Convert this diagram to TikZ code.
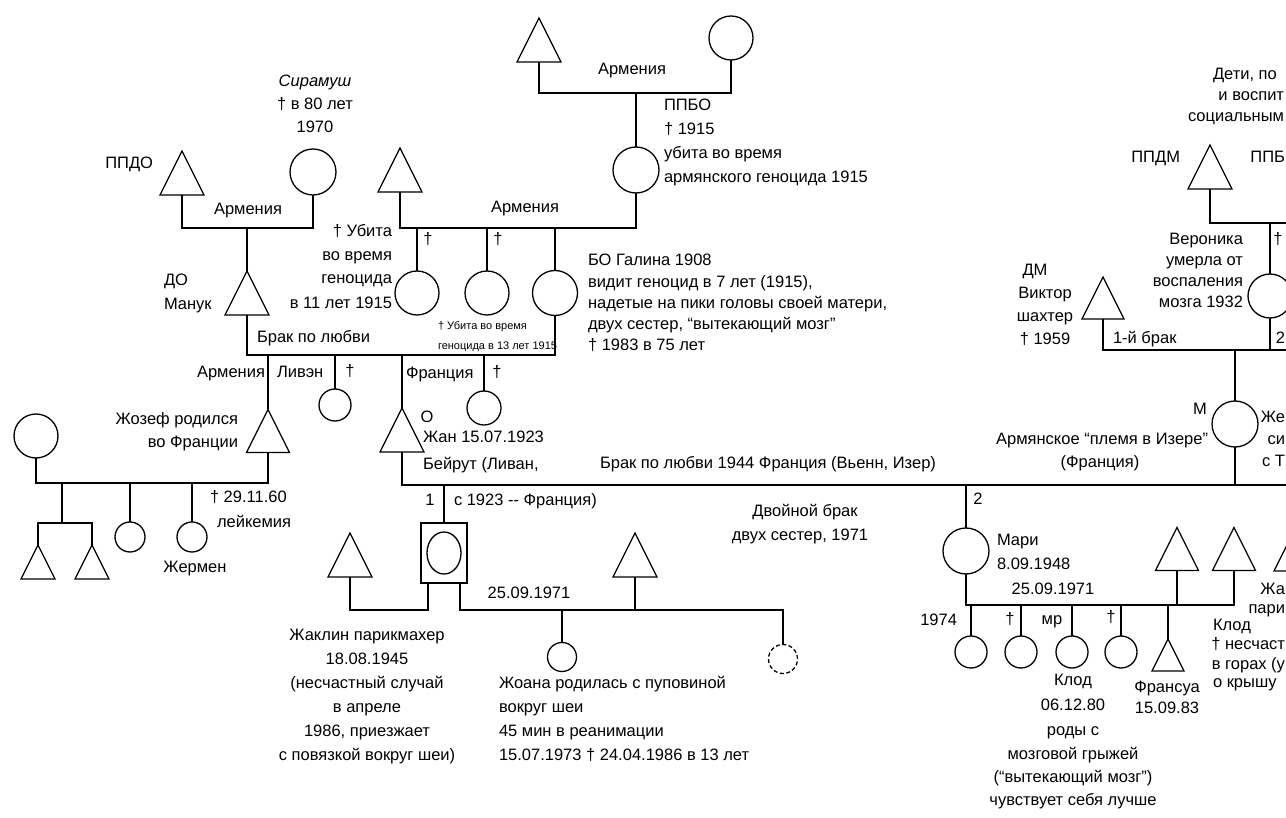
\documentclass[tikz,border=0pt]{standalone}
\usepackage{fontspec}
\setmainfont{Liberation Sans}
\usetikzlibrary{calc,shapes.geometric}
\newcommand{\gtri}[4]{%
  \node[tribox=#4] (#1) at (#2,#3) {};
  \draw[ln] (#1.north) -- (#1.south west) -- (#1.south east) -- cycle;}
\begin{document}
\begin{tikzpicture}[x=1pt,y=-1pt,
  every node/.style={inner sep=0pt, outer sep=0pt, font=\fontsize{16.5}{20}\selectfont},
  sm/.style={font=\fontsize{11}{13}\selectfont},
  ln/.style={line width=1.3pt, black},
  fem/.style={circle, draw, line width=1.3pt, minimum size=#1},
  fem/.default=44,
  tribox/.style={rectangle, minimum width=#1, minimum height=#1},
  tribox/.default=44]
\fill[white] (0,0) rectangle (1286,818);
\useasboundingbox (0,0) rectangle (1286,818);
\clip (0,0) rectangle (1286,818);

% ---------- top grandparents
\gtri{gA}{539}{40}{44}
\node[fem=44] (gB) at (731,38) {};
\coordinate (mA) at (636,93);
\draw[ln] (gA.south) |- (mA) -| (gB.south);
\node[fem=46] (ppbo) at (636,170) {};
\draw[ln] (mA) -- (ppbo.north);

% ---------- PPBO marriage
\gtri{bh}{400}{170}{44}
\coordinate (mB) at (520,228);
\draw[ln] (bh.south) |- (mB) -| (ppbo.south);
\node[fem=44] (c1) at (417,293) {};
\node[fem=44] (c2) at (487,293) {};
\node[fem=45] (c3) at (555,293) {};
\draw[ln] (c1.north) -- (c1.north |- mB);
\draw[ln] (c2.north) -- (c2.north |- mB);
\draw[ln] (c3.north) -- (c3.north |- mB);

% ---------- PPDO marriage
\gtri{ppdo}{182}{173}{44}
\node[fem=46] (sir) at (313,172) {};
\coordinate (mC) at (247,228);
\draw[ln] (ppdo.south) |- (mC) -| (sir.south);
\gtri{do}{247}{293}{44}
\draw[ln] (mC) -- (do.north);

% ---------- DO + Galina
\coordinate (mD) at (400,355);
\draw[ln] (do.south) |- (mD) -| (c3.south);
\gtri{jozef}{268}{431}{43}
\node[fem=32] (d1) at (335,405) {};
\gtri{jan}{402}{430}{44}
\node[fem=34] (d2) at (484,408) {};
\draw[ln] (jozef.north) -- (jozef.north |- mD);
\draw[ln] (d1.north) -- (d1.north |- mD);
\draw[ln] (jan.north) -- (jan.north |- mD);
\draw[ln] (d2.north) -- (d2.north |- mD);

% ---------- Jozef family
\node[fem=44] (jw) at (36,436) {};
\coordinate (mE) at (150,483);
\draw[ln] (jw.south) |- (mE) -| (jozef.south);
\gtri{tw1}{38}{562}{34}
\gtri{tw2}{92}{562}{34}
\coordinate (twj) at (62,523);
\draw[ln] (twj |- mE) -- (twj);
\draw[ln] (tw1.north) |- (twj) -| (tw2.north);
\node[fem=30] (e1) at (130,537) {};
\node[fem=30] (germ) at (192,537) {};
\draw[ln] (e1.north) -- (e1.north |- mE);
\draw[ln] (germ.north) -- (germ.north |- mE);

% ---------- big marriage
\node[fem=46] (mc) at (1235,424) {};
\coordinate (eF) at (1290,485);
\draw[ln] (jan.south) |- (eF);
\draw[ln] (mc.south) -- (mc.south |- eF);
\node[draw, line width=1.3pt, rectangle, minimum width=46, minimum height=60] (sq) at (444,553) {};
\node[draw, line width=1.3pt, ellipse, minimum width=34, minimum height=42] (sqc) at (444,553) {};
\draw[ln] (sq.north) -- (sq.north |- eF);
\node[fem=46] (mari) at (966,551) {};
\draw[ln] (mari.north) -- (mari.north |- eF);

% ---------- Jaklin side
\gtri{jak}{350}{555}{44}
\coordinate (mG) at (390,610);
\draw[ln] (jak.south) |- (mG) -| ($(sq.south)+(-16,0)$);
\gtri{h2}{635}{555}{44}
\node[fem=29] (joana) at (562,657) {};
\node[fem=29, dash pattern=on 4pt off 2.5pt] (dc) at (783,659) {};
\coordinate (mH) at (600,610);
\draw[ln] ($(sq.south)+(16,0)$) |- (mH) -| (dc.north);
\draw[ln] (h2.south) -- (h2.south |- mH);
\draw[ln] (joana.north) -- (joana.north |- mH);

% ---------- Mari family
\gtri{t1}{1177}{549}{43}
\gtri{t2}{1234}{549}{43}
\gtri{t3}{1296}{549}{44}
\coordinate (mI) at (1100,605);
\draw[ln] (mari.south) |- (mI) -| (t2.south);
\draw[ln] (t1.south) -- (t1.south |- mI);
\node[fem=32] (k1) at (971,652) {};
\node[fem=32] (k2) at (1021,652) {};
\node[fem=32] (k3) at (1072,652) {};
\node[fem=32] (k4) at (1121,652) {};
\gtri{fr}{1168}{655}{32}
\foreach \k in {k1,k2,k3,k4,fr} \draw[ln] (\k.north) -- (\k.north |- mI);

% ---------- top right
\gtri{ppdm}{1210}{167}{44}
\coordinate (mJ) at (1290,223);
\draw[ln] (ppdm.south) |- (mJ);
\node[fem=44] (ver) at (1270,296) {};
\draw[ln] (ver.north) -- (ver.north |- mJ);
\gtri{dm}{1103}{298}{42}
\coordinate (mK) at (1290,350);
\draw[ln] (dm.south) |- (mK);
\draw[ln] (ver.south) -- (ver.south |- mK);
\draw[ln] (mc.north) -- (mc.north |- mK);

% ---------- texts
\node[anchor=mid] (tArm0) at (632,72) {Армения};
\node[anchor=mid west] (tP1) at (664,108) {ППБО};
\node[anchor=mid west] (tP2) at (664,132) {† 1915};
\node[anchor=mid west] (tP3) at (664,156) {убита во время};
\node[anchor=mid west] (tP4) at (664,180) {армянского геноцида 1915};
\node[anchor=mid] (tS1) at (315,84) {\itshape Сирамуш};
\node[anchor=mid] (tS2) at (315,107) {† в 80 лет};
\node[anchor=mid] (tS3) at (315,130) {1970};
\node[anchor=mid east] (tPPDO) at (153,166) {ППДО};
\node[anchor=mid] (tArm1) at (248,212) {Армения};
\node[anchor=mid] (tArm2) at (525,210) {Армения};
\node[anchor=mid east] (tU1) at (392,234) {† Убита};
\node[anchor=mid east] (tU2) at (392,258) {во время};
\node[anchor=mid east] (tU3) at (392,281) {геноцида};
\node[anchor=mid east] (tU4) at (392,306) {в 11 лет 1915};
\node[anchor=mid] (tD1) at (428,242) {†};
\node[anchor=mid] (tD2) at (498,242) {†};
\node[sm, anchor=mid west] (tK1) at (438,327) {† Убита во время};
\node[sm, anchor=mid west] (tK2) at (438,347) {геноцида в 13 лет 1915};
\node[anchor=mid west] (tG1) at (588,263) {БО Галина 1908};
\node[anchor=mid west] (tG2) at (588,285) {видит геноцид в 7 лет (1915),};
\node[anchor=mid west] (tG3) at (588,306) {надетые на пики головы своей матери,};
\node[anchor=mid west] (tG4) at (588,327) {двух сестер, ``вытекающий мозг''};
\node[anchor=mid west] (tG5) at (588,348) {† 1983 в 75 лет};
\node[anchor=mid west] (tDO1) at (164,283) {ДО};
\node[anchor=mid west] (tDO2) at (164,307) {Манук};
\node[anchor=mid west] (tBL) at (257,340) {Брак по любви};
\node[anchor=mid east] (tArm3) at (265,375) {Армения};
\node[anchor=mid west] (tLiv) at (277,375) {Ливэн};
\node[anchor=mid] (tD3) at (350,374) {†};
\node[anchor=mid west] (tFr) at (406,376) {Франция};
\node[anchor=mid] (tD4) at (497,375) {†};
\node[anchor=mid east] (tJz1) at (238,422) {Жозеф родился};
\node[anchor=mid east] (tJz2) at (238,445) {во Франции};
\node[anchor=mid west] (tJz3) at (210,500) {† 29.11.60};
\node[anchor=mid west] (tJz4) at (217,525) {лейкемия};
\node[anchor=mid] (tGer) at (195,570) {Жермен};
\node[anchor=mid] (tO) at (427,420) {О};
\node[anchor=mid west] (tJ1) at (423,440) {Жан 15.07.1923};
\node[anchor=mid west] (tJ2) at (423,467) {Бейрут (Ливан,};
\node[anchor=mid west] (tBig) at (600,466) {Брак по любви 1944 Франция (Вьенн, Изер)};
\node[anchor=mid] (tOne) at (430,503) {1};
\node[anchor=mid west] (tJ3) at (454,503) {с 1923 {-}{-} Франция)};
\node[anchor=mid] (tDB1) at (805,514) {Двойной брак};
\node[anchor=mid] (tDB2) at (800,538) {двух сестер, 1971};
\node[anchor=mid] (tTwo) at (978,502) {2};
\node[anchor=mid east] (tIz1) at (1208,442) {Армянское ``племя в Изере''};
\node[anchor=mid] (tIz2) at (1100,465) {(Франция)};
\node[anchor=mid] (tM) at (1200,412) {М};
\node[anchor=mid east] (tZe1) at (1285,420) {Же};
\node[anchor=mid east] (tZe2) at (1285,442) {си};
\node[anchor=mid east] (tZe3) at (1285,464) {с Т};
\node[anchor=mid] (tJk1) at (367,638) {Жаклин парикмахер};
\node[anchor=mid] (tJk2) at (367,662) {18.08.1945};
\node[anchor=mid] (tJk3) at (367,686) {(несчастный случай};
\node[anchor=mid] (tJk4) at (367,710) {в апреле};
\node[anchor=mid] (tJk5) at (367,734) {1986, приезжает};
\node[anchor=mid] (tJk6) at (367,758) {с повязкой вокруг шеи)};
\node[anchor=mid] (t25a) at (529,596) {25.09.1971};
\node[anchor=mid west] (tJo1) at (499,686) {Жоана родилась с пуповиной};
\node[anchor=mid west] (tJo2) at (499,710) {вокруг шеи};
\node[anchor=mid west] (tJo3) at (499,734) {45 мин в реанимации};
\node[anchor=mid west] (tJo4) at (499,758) {15.07.1973 † 24.04.1986 в 13 лет};
\node[anchor=mid west] (tMa1) at (997,543) {Мари};
\node[anchor=mid west] (tMa2) at (997,567) {8.09.1948};
\node[anchor=mid] (t25b) at (1053,592) {25.09.1971};
\node[anchor=mid east] (t1974) at (957,623) {1974};
\node[anchor=mid] (tD5) at (1010,622) {†};
\node[anchor=mid] (tMr) at (1052,622) {мр};
\node[anchor=mid] (tD6) at (1111,620) {†};
\node[anchor=mid] (tKl1) at (1073,683) {Клод};
\node[anchor=mid] (tKl2) at (1073,708) {06.12.80};
\node[anchor=mid] (tKl3) at (1073,733) {роды с};
\node[anchor=mid] (tKl4) at (1073,757) {мозговой грыжей};
\node[anchor=mid] (tKl5) at (1073,780) {(``вытекающий мозг'')};
\node[anchor=mid] (tKl6) at (1073,803) {чувствует себя лучше};
\node[anchor=mid] (tFs1) at (1167,690) {Франсуа};
\node[anchor=mid] (tFs2) at (1167,711) {15.09.83};
\node[anchor=mid east] (tR1) at (1285,592) {Жа};
\node[anchor=mid east] (tR2) at (1285,611) {пари};
\node[anchor=mid west] (tR3) at (1213,628) {Клод};
\node[anchor=mid east] (tR4) at (1285,647) {† несчаст};
\node[anchor=mid east] (tR5) at (1285,667) {в горах (у};
\node[anchor=mid west] (tR6) at (1213,685) {о крышу};
\node[anchor=mid west] (tC1) at (1213,77) {Дети, по};
\node[anchor=mid east] (tC2) at (1284,98) {и воспит};
\node[anchor=mid east] (tC3) at (1284,119) {социальным};
\node[anchor=mid east] (tPPDM) at (1180,160) {ППДМ};
\node[anchor=mid east] (tPPB) at (1285,160) {ППБ};
\node[anchor=mid east] (tV1) at (1243,242) {Вероника};
\node[anchor=mid east] (tV2) at (1243,263) {умерла от};
\node[anchor=mid east] (tV3) at (1243,284) {воспаления};
\node[anchor=mid east] (tV4) at (1243,305) {мозга 1932};
\node[anchor=mid] (tD7) at (1278,242) {†};
\node[anchor=mid] (tDM1) at (1035,273) {ДМ};
\node[anchor=mid] (tDM2) at (1045,296) {Виктор};
\node[anchor=mid] (tDM3) at (1045,319) {шахтер};
\node[anchor=mid] (tDM4) at (1045,342) {† 1959};
\node[anchor=mid west] (tBr1) at (1113,341) {1-й брак};
\node[anchor=mid east] (tBr2) at (1285,341) {2};
\end{tikzpicture}
\end{document}
